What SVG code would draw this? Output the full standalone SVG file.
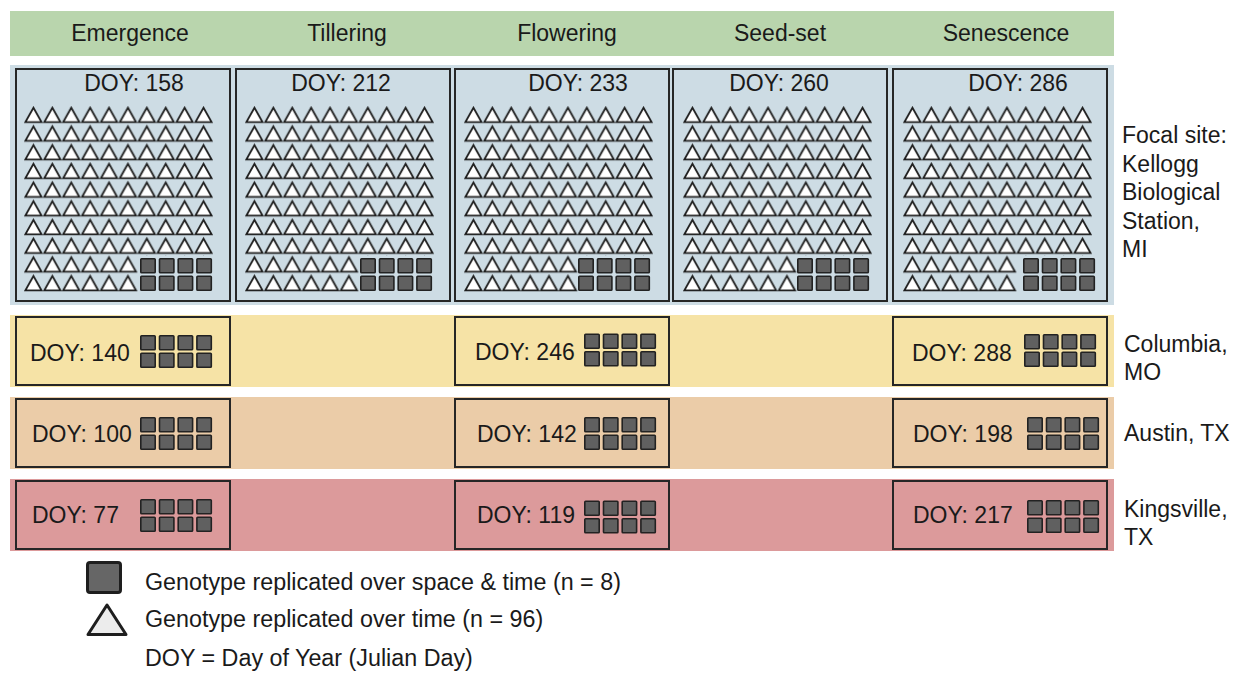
<svg xmlns="http://www.w3.org/2000/svg" xmlns:xlink="http://www.w3.org/1999/xlink" width="1235" height="675" viewBox="0 0 1235 675">
<style>
  text { font-family: "Liberation Sans", Arial, Helvetica, sans-serif; font-size: 23px; fill: #1a1a1a; }
  .mid { text-anchor: middle; }
  .leg { font-size: 23.3px; }
  .panel { stroke: #262626; stroke-width: 2; }
  .sq { fill: #606060; stroke: #222; stroke-width: 1.6; }
</style>
<defs>
  <pattern id="tp" width="18.9" height="18.7" patternUnits="userSpaceOnUse">
    <path d="M1.3 16.2 L9.45 1.7 L17.6 16.2 Z" fill="#ffffff" stroke="#1e1e1e" stroke-width="1.8"/>
  </pattern>
  <g id="blk">
    <rect class="sq" x="0.8" y="0.8" width="14.4" height="14" rx="0.8"/>
    <rect class="sq" x="19.5" y="0.8" width="14.4" height="14" rx="0.8"/>
    <rect class="sq" x="38.2" y="0.8" width="14.4" height="14" rx="0.8"/>
    <rect class="sq" x="56.9" y="0.8" width="14.4" height="14" rx="0.8"/>
    <rect class="sq" x="0.8" y="18.3" width="14.4" height="14" rx="0.8"/>
    <rect class="sq" x="19.5" y="18.3" width="14.4" height="14" rx="0.8"/>
    <rect class="sq" x="38.2" y="18.3" width="14.4" height="14" rx="0.8"/>
    <rect class="sq" x="56.9" y="18.3" width="14.4" height="14" rx="0.8"/>
  </g>
  <g id="tris">
    <rect x="0" y="0" width="189" height="149.6" fill="url(#tp)"/>
    <rect x="0" y="149.6" width="113.4" height="37.4" fill="url(#tp)"/>
  </g>
</defs>

<!-- background bands -->
<g id="bands">
  <rect x="10" y="11" width="1104" height="45" fill="#b9d5ad"/>
  <rect x="10" y="65" width="1104" height="240" fill="#cddce4"/>
  <rect x="10" y="315" width="1104" height="72" fill="#f6e3a6"/>
  <rect x="10" y="397" width="1104" height="72" fill="#ebcca8"/>
  <rect x="10" y="479" width="1104" height="72" fill="#dc9a9b"/>
</g>

<g id="headers">
  <text class="mid" x="130" y="41">Emergence</text>
  <text class="mid" x="347" y="41">Tillering</text>
  <text class="mid" x="567" y="41">Flowering</text>
  <text class="mid" x="780" y="41">Seed-set</text>
  <text class="mid" x="1006" y="41">Senescence</text>
</g>

<!-- focal site panels -->
<g id="focal-emergence">
  <rect class="panel" x="16" y="69" width="214" height="232" fill="#cddce4"/>
  <text class="mid" x="134" y="91">DOY: 158</text>
  <use href="#tris" xlink:href="#tris" transform="translate(24,106)"/>
  <use href="#blk" xlink:href="#blk" x="140" y="258"/>
</g>
<g id="focal-tillering">
  <rect class="panel" x="236" y="69" width="214" height="232" fill="#cddce4"/>
  <text class="mid" x="341" y="91">DOY: 212</text>
  <use href="#tris" xlink:href="#tris" transform="translate(245,106)"/>
  <use href="#blk" xlink:href="#blk" x="360" y="258"/>
</g>
<g id="focal-flowering">
  <rect class="panel" x="455" y="69" width="214" height="232" fill="#cddce4"/>
  <text class="mid" x="578" y="91">DOY: 233</text>
  <use href="#tris" xlink:href="#tris" transform="translate(464,106)"/>
  <use href="#blk" xlink:href="#blk" x="578" y="258"/>
</g>
<g id="focal-seedset">
  <rect class="panel" x="673" y="69" width="214" height="232" fill="#cddce4"/>
  <text class="mid" x="779" y="91">DOY: 260</text>
  <use href="#tris" xlink:href="#tris" transform="translate(683,106)"/>
  <use href="#blk" xlink:href="#blk" x="797" y="258"/>
</g>
<g id="focal-senescence">
  <rect class="panel" x="893" y="69" width="214" height="232" fill="#cddce4"/>
  <text class="mid" x="1018" y="91">DOY: 286</text>
  <use href="#tris" xlink:href="#tris" transform="translate(903,106)"/>
  <use href="#blk" xlink:href="#blk" x="1023" y="258"/>
</g>

<!-- Columbia -->
<g id="columbia-emergence">
  <rect class="panel" x="16" y="317" width="214" height="68" fill="#f6e3a6"/>
  <text x="30" y="361">DOY: 140</text>
  <use href="#blk" xlink:href="#blk" x="140" y="335"/>
</g>
<g id="columbia-flowering">
  <rect class="panel" x="455" y="317" width="214" height="68" fill="#f6e3a6"/>
  <text x="475" y="360">DOY: 246</text>
  <use href="#blk" xlink:href="#blk" x="584" y="333.5"/>
</g>
<g id="columbia-senescence">
  <rect class="panel" x="893" y="317" width="214" height="68" fill="#f6e3a6"/>
  <text x="912" y="361">DOY: 288</text>
  <use href="#blk" xlink:href="#blk" x="1024" y="334"/>
</g>

<!-- Austin -->
<g id="austin-emergence">
  <rect class="panel" x="16" y="399" width="214" height="68" fill="#ebcca8"/>
  <text x="32" y="442">DOY: 100</text>
  <use href="#blk" xlink:href="#blk" x="140" y="417"/>
</g>
<g id="austin-flowering">
  <rect class="panel" x="455" y="399" width="214" height="68" fill="#ebcca8"/>
  <text x="477" y="442">DOY: 142</text>
  <use href="#blk" xlink:href="#blk" x="584" y="417"/>
</g>
<g id="austin-senescence">
  <rect class="panel" x="893" y="399" width="214" height="68" fill="#ebcca8"/>
  <text x="913" y="442">DOY: 198</text>
  <use href="#blk" xlink:href="#blk" x="1027" y="417"/>
</g>

<!-- Kingsville -->
<g id="kingsville-emergence">
  <rect class="panel" x="16" y="481" width="214" height="68" fill="#dc9a9b"/>
  <text x="32" y="523">DOY: 77</text>
  <use href="#blk" xlink:href="#blk" x="140" y="499"/>
</g>
<g id="kingsville-flowering">
  <rect class="panel" x="455" y="481" width="214" height="68" fill="#dc9a9b"/>
  <text x="477" y="523">DOY: 119</text>
  <use href="#blk" xlink:href="#blk" x="584" y="500.5"/>
</g>
<g id="kingsville-senescence">
  <rect class="panel" x="893" y="481" width="214" height="68" fill="#dc9a9b"/>
  <text x="913" y="523">DOY: 217</text>
  <use href="#blk" xlink:href="#blk" x="1027" y="500"/>
</g>

<!-- site labels -->
<g id="site-labels">
  <text x="1122" y="143">Focal site:</text>
  <text x="1122" y="171.5">Kellogg</text>
  <text x="1122" y="200">Biological</text>
  <text x="1122" y="228.5">Station,</text>
  <text x="1122" y="257">MI</text>
  <text x="1124" y="352">Columbia,</text>
  <text x="1124" y="380">MO</text>
  <text x="1124" y="441">Austin, TX</text>
  <text x="1124" y="517">Kingsville,</text>
  <text x="1124" y="545">TX</text>
</g>

<!-- legend -->
<g id="legend">
  <rect x="87.5" y="562.5" width="33" height="30" rx="2.5" fill="#666" stroke="#1e1e1e" stroke-width="3"/>
  <path d="M88 634.5 L107 605 L126 634.5 Z" fill="#ececec" stroke="#1e1e1e" stroke-width="3" stroke-linejoin="round"/>
  <text class="leg" x="145" y="590">Genotype replicated over space &amp; time (n = 8)</text>
  <text class="leg" x="145" y="627">Genotype replicated over time (n = 96)</text>
  <text class="leg" x="145" y="666">DOY = Day of Year (Julian Day)</text>
</g>
</svg>
